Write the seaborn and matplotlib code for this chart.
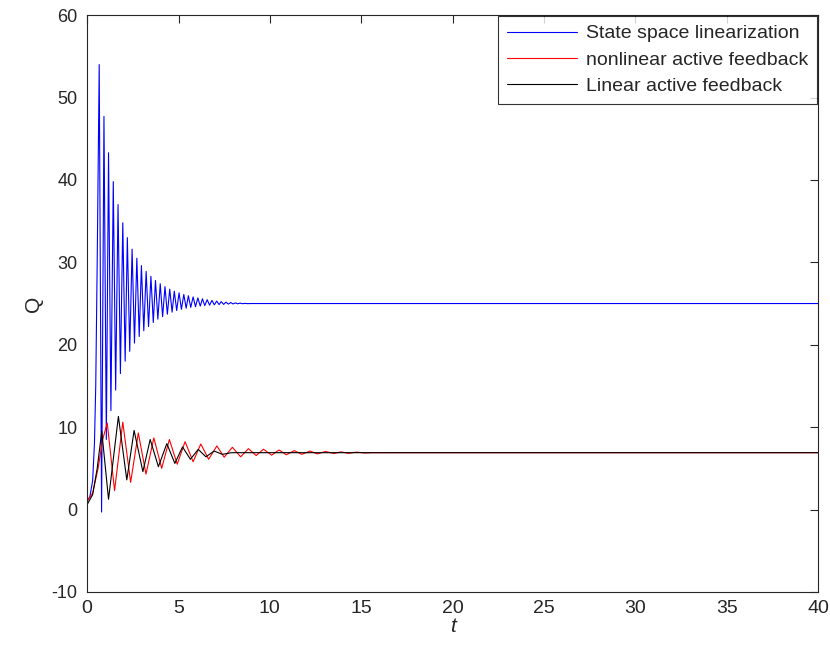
import numpy as np
import pandas as pd
import matplotlib
matplotlib.use("Agg")
import matplotlib.pyplot as plt
import seaborn as sns

# ---- Data ----
# Blue: State space linearization (start, rise, then peak/trough pairs, then flat)
blue_rise_t = [0.0, 0.15, 0.30, 0.40, 0.47, 0.55]
blue_rise_q = [1.0, 1.6, 3.5, 8.0, 15.0, 30.0]
blue_peak_t = [0.66, 0.92, 1.17, 1.43, 1.69, 1.95, 2.20, 2.46, 2.72, 2.97, 3.23,
               3.49, 3.74, 4.00, 4.26, 4.52, 4.77, 5.03, 5.29, 5.54, 5.80, 6.06,
               6.31, 6.57, 6.83, 7.09, 7.34, 7.60, 7.86, 8.11, 8.37, 8.63]
blue_peak_q = [54.0, 47.7, 43.3, 39.8, 37.0, 34.8, 33.0, 31.6, 30.5, 29.6, 28.9,
               28.3, 27.8, 27.4, 27.05, 26.75, 26.5, 26.3, 26.1, 25.95, 25.8, 25.68,
               25.57, 25.47, 25.38, 25.3, 25.23, 25.17, 25.12, 25.08, 25.05, 25.02]
blue_trough_t = [0.79, 1.05, 1.30, 1.56, 1.82, 2.08, 2.33, 2.59, 2.85, 3.10, 3.36,
                 3.62, 3.87, 4.13, 4.39, 4.65, 4.90, 5.16, 5.42, 5.67, 5.93, 6.19,
                 6.44, 6.70, 6.96, 7.22, 7.47, 7.73, 7.99, 8.24, 8.50, 8.76]
blue_trough_q = [-0.3, 8.5, 12.0, 14.5, 16.5, 18.0, 19.2, 20.2, 21.0, 21.7, 22.2,
                 22.7, 23.1, 23.4, 23.7, 23.95, 24.15, 24.3, 24.43, 24.53, 24.62, 24.69,
                 24.75, 24.8, 24.84, 24.87, 24.9, 24.93, 24.95, 24.97, 24.98, 24.99]
blue_end_t = [9.0, 40.0]
blue_end_q = [25.0, 25.0]

# Red: nonlinear active feedback
red_t = [0.0, 0.3, 0.6, 0.85, 1.10, 1.50, 1.95, 2.38, 2.80, 3.22, 3.65, 4.08, 4.50,
         4.93, 5.36, 5.80, 6.22, 6.65, 7.10, 7.50, 7.95, 8.40, 8.83, 9.25, 9.65,
         10.10, 10.50, 10.90, 11.34, 11.75, 12.20, 12.60, 13.05, 13.50, 13.90,
         14.30, 14.75, 15.20, 15.60, 40.0]
red_q = [1.0, 2.0, 5.0, 8.5, 10.5, 2.3, 10.6, 3.3, 9.3, 4.3, 8.7, 5.0, 8.5,
         5.5, 8.24, 5.8, 7.96, 6.1, 7.72, 6.35, 7.56, 6.4, 7.39, 6.55, 7.32,
         6.6, 7.23, 6.65, 7.15, 6.7, 7.1, 6.75, 7.05, 6.8, 7.0, 6.82, 6.97,
         6.86, 6.9, 6.9]

# Black: Linear active feedback
black_t = [0.0, 0.3, 0.55, 0.80, 1.17, 1.71, 2.17, 2.57, 3.05, 3.45, 3.90, 4.36,
           4.80, 5.22, 5.65, 6.08, 6.50, 6.95, 7.40, 7.90, 40.0]
black_q = [0.6, 1.8, 5.0, 9.5, 1.25, 11.3, 3.6, 9.6, 4.6, 8.5, 5.2, 8.0,
           5.6, 7.6, 6.1, 7.3, 6.4, 7.1, 6.7, 6.9, 6.9]

labels = ["State space linearization", "nonlinear active feedback",
          "Linear active feedback"]
x_ticks = [0, 5, 10, 15, 20, 25, 30, 35, 40]
y_ticks = [-10, 0, 10, 20, 30, 40, 50, 60]

# ---- Build blue sequence by interleaving peaks and troughs ----
bt = list(blue_rise_t)
bq = list(blue_rise_q)
for pt, pq, tt, tq in zip(blue_peak_t, blue_peak_q, blue_trough_t, blue_trough_q):
    bt += [pt, tt]
    bq += [pq, tq]
bt += blue_end_t
bq += blue_end_q

df_blue = pd.DataFrame({"t": bt, "Q": bq})
df_red = pd.DataFrame({"t": red_t, "Q": red_q})
df_black = pd.DataFrame({"t": black_t, "Q": black_q})

sns.set_style("white")
plt.rcParams['font.family'] = ['Liberation Sans', 'DejaVu Sans']

fig = plt.figure(figsize=(8.3, 6.57), dpi=100)
ax = fig.add_axes([0.105, 0.099, 0.8805, 0.878])

sns.lineplot(data=df_blue, x="t", y="Q", ax=ax, color="#0000ff", linewidth=0.8,
             sort=False, estimator=None, label=labels[0])
sns.lineplot(data=df_red, x="t", y="Q", ax=ax, color="#ff0000", linewidth=0.8,
             sort=False, estimator=None, label=labels[1])
sns.lineplot(data=df_black, x="t", y="Q", ax=ax, color="#000000", linewidth=0.8,
             sort=False, estimator=None, label=labels[2])

ax.set_xlim(0, 40)
ax.set_ylim(-10, 60)
ax.set_xticks(x_ticks)
ax.set_yticks(y_ticks)
ax.set_xticklabels([str(v) for v in x_ticks], fontsize=14)
ax.set_yticklabels([str(v) for v in y_ticks], fontsize=13)
ax.tick_params(direction="in", length=6, width=0.8, top=True, right=True,
               labelcolor="#262626")
ax.tick_params(axis="x", pad=5.5)
ax.tick_params(axis="y", pad=7)
for s in ax.spines.values():
    s.set_linewidth(0.8)
    s.set_color("#262626")

ax.set_xlabel("t", fontsize=15, style="italic", labelpad=0)
ax.set_ylabel("Q", fontsize=15, labelpad=6)

leg = ax.legend(loc="upper right", fontsize=14, handlelength=3.6, frameon=True,
                fancybox=False, edgecolor="black", borderaxespad=0.05,
                labelspacing=0.45, handletextpad=0.45, borderpad=0.45)
leg.get_frame().set_linewidth(0.8)

fig.savefig("out.png", dpi=100)
